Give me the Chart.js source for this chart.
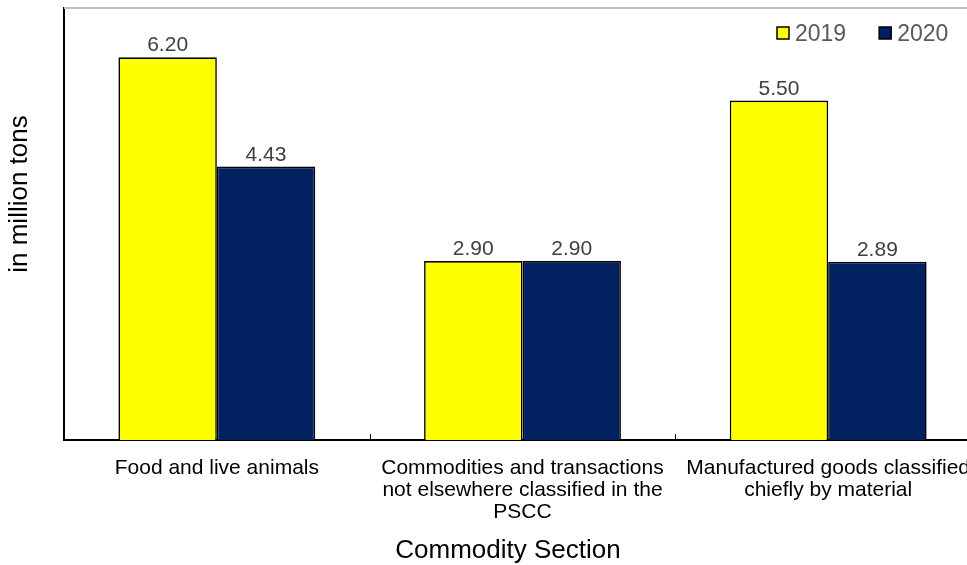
<!DOCTYPE html>
<html>
<head>
<meta charset="utf-8">
<script src="https://cdn.jsdelivr.net/npm/chart.js@4.4.1/dist/chart.umd.min.js"></script>
<style>
    html, body { margin: 0; padding: 0; background: #fff; overflow: hidden; }
    #wrap { width: 982px; height: 565px; }
</style>
</head>
<body>
<div id="wrap"><canvas id="grafico" width="982" height="565"></canvas></div>
<script>
const categorias = [
    ['Food and live animals'],
    ['Commodities and transactions', 'not elsewhere classified in the', 'PSCC'],
    ['Manufactured goods classified', 'chiefly by material']
];
const anios = ['2019', '2020'];
const valores2019 = [6.20, 2.90, 5.50];
const valores2020 = [4.43, 2.90, 2.89];
const colores = ['#ffff00', '#002060'];
const tituloX = 'Commodity Section';
const tituloY = 'in million tons';

const fuente = '"Liberation Sans", Arial, sans-serif';

// etiquetas, leyenda, marcas del eje y titulos
const extras = {
    id: 'extras',
    beforeDatasetsDraw(chart) {
        const ctx = chart.ctx;
        const area = chart.chartArea;
        ctx.save();
        ctx.strokeStyle = '#bfbfbf';
        ctx.lineWidth = 2;
        ctx.beginPath();
        ctx.moveTo(area.left, area.top);
        ctx.lineTo(chart.width, area.top);
        ctx.stroke();

        // marcas entre categorias
        const x = chart.scales.x;
        const paso = x.getPixelForValue(1) - x.getPixelForValue(0);
        ctx.strokeStyle = '#000';
        ctx.lineWidth = 1;
        for (let i = 0; i < categorias.length; i++) {
            const px = Math.round(x.getPixelForValue(i) + paso / 2) + 0.5;
            ctx.beginPath();
            ctx.moveTo(px, area.bottom);
            ctx.lineTo(px, area.bottom - 6);
            ctx.stroke();
        }
        ctx.restore();
    },
    afterDraw(chart) {
        const ctx = chart.ctx;
        const area = chart.chartArea;
        ctx.save();

        // valores sobre las barras
        ctx.font = '21px ' + fuente;
        ctx.fillStyle = '#404040';
        ctx.textAlign = 'center';
        ctx.textBaseline = 'alphabetic';
        chart.data.datasets.forEach((ds, d) => {
            chart.getDatasetMeta(d).data.forEach((el, i) => {
                ctx.fillText(ds.data[i].toFixed(2), el.x, el.y - 6);
            });
        });

        // leyenda
        ctx.font = '23px ' + fuente;
        ctx.textAlign = 'left';
        let lx = area.right - 204;
        chart.data.datasets.forEach((ds) => {
            ctx.fillStyle = ds.backgroundColor;
            ctx.fillRect(lx, 27, 12, 12);
            ctx.strokeStyle = '#000';
            ctx.lineWidth = 1.5;
            ctx.strokeRect(lx, 27, 12, 12);
            ctx.fillStyle = '#595959';
            ctx.fillText(ds.label, lx + 18, 41);
            lx += 18 + ctx.measureText(ds.label).width + 33;
        });

        // titulos de ejes
        ctx.font = '26px ' + fuente;
        ctx.fillStyle = '#000';
        ctx.textAlign = 'center';
        ctx.textBaseline = 'middle';
        ctx.fillText(tituloX, 508, 551);
        ctx.translate(20, 194);
        ctx.rotate(-Math.PI / 2);
        ctx.fillText(tituloY, 0, 0);
        ctx.restore();
    }
};

const ctx = document.getElementById('grafico').getContext('2d');
new Chart(ctx, {
    type: 'bar',
    data: {
        labels: categorias,
        datasets: [
            { label: anios[0], data: valores2019, backgroundColor: colores[0] },
            { label: anios[1], data: valores2020, backgroundColor: colores[1] }
        ]
    },
    options: {
        responsive: false,
        animation: false,
        layout: { padding: { top: 8, right: 1, left: 0, bottom: 0 } },
        datasets: {
            bar: {
                borderColor: '#000',
                borderWidth: 1.6,
                categoryPercentage: 0.644,
                barPercentage: 1
            }
        },
        scales: {
            x: {
                grid: { display: false },
                border: { display: true, color: '#000', width: 2 },
                ticks: {
                    color: '#000',
                    padding: 9,
                    maxRotation: 0,
                    autoSkip: false,
                    font: { family: fuente, size: 21, lineHeight: 1.05 }
                },
                afterFit: (s) => { s.height = 125; }
            },
            y: {
                min: 0,
                max: 7,
                grid: { display: false },
                border: { display: true, color: '#000', width: 2 },
                ticks: { display: false },
                afterFit: (s) => { s.width = 64; }
            }
        },
        plugins: {
            legend: { display: false },
            tooltip: { enabled: false }
        }
    },
    plugins: [extras]
});
</script>
</body>
</html>
